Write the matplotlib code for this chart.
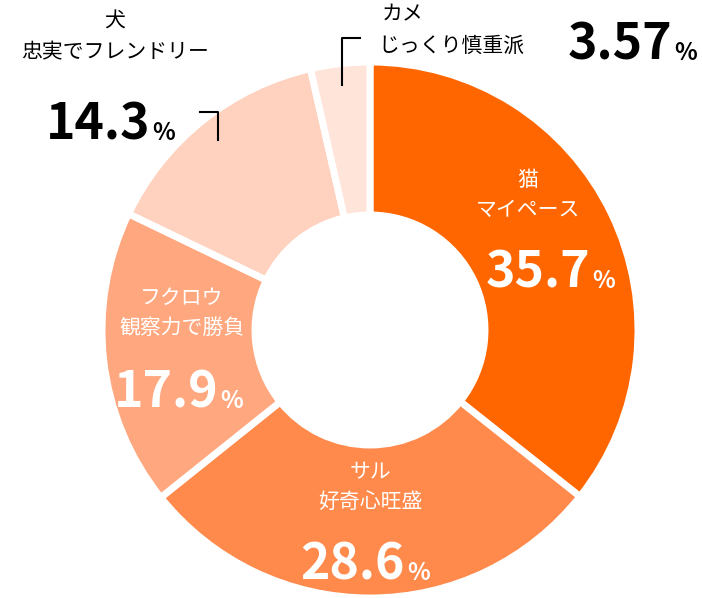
import matplotlib
matplotlib.use("Agg")
import matplotlib.pyplot as plt

labels = ["猫", "サル", "フクロウ", "犬", "カメ"]
subs = ["マイペース", "好奇心旺盛", "観察力で勝負", "忠実でフレンドリー", "じっくり慎重派"]
values = [35.7, 28.6, 17.9, 14.3, 3.57]
pct_text = ["35.7", "28.6", "17.9", "14.3", "3.57"]
colors = ["#FF6600", "#FF8A4C", "#FFA880", "#FFD2BF", "#FFE4D9"]

F = "Noto Sans CJK JP"
fig = plt.figure(figsize=(7.02, 5.98), dpi=100)
ax = fig.add_axes([0, 0, 1, 1])
ax.set_xlim(0, 702); ax.set_ylim(598, 0)
ax.axis("off")
# pie in a separate axes with normal orientation
pax = fig.add_axes([0, 0, 1, 1])
pax.set_xlim(0, 702); pax.set_ylim(0, 598); pax.axis("off")
pax.pie(values, colors=colors, startangle=90, counterclock=False,
        center=(370, 268), radius=268, frame=True,
        wedgeprops=dict(width=153, edgecolor="white", linewidth=5))
pax.set_xlim(0, 702); pax.set_ylim(0, 598); pax.set_aspect("auto"); pax.axis("off")
pax.set_zorder(0); ax.set_zorder(1); ax.patch.set_visible(False)

def lab(x, y, t, s, c, tc, sz=15):
    ax.text(x, y, t, ha="center", va="center", fontsize=sz, color=tc, family=F)
    ax.text(x, y + 30, s, ha="center", va="center", fontsize=sz, color=tc, family=F)

def pct(x, y, num, tc, ha="center"):
    t = ax.text(x, y, num, ha="right", va="baseline", fontsize=36, fontweight="bold",
                color=tc, family=F)
    ax.text(x + 2, y, "%", ha="left", va="baseline", fontsize=17, fontweight="bold",
            color=tc, family=F)

lab(528, 180, labels[0], subs[0], colors[0], "white")
pct(590, 288, pct_text[0], "white")
lab(370, 472, labels[1], subs[1], colors[1], "white")
pct(405, 580, pct_text[1], "white")
lab(182, 298, labels[2], subs[2], colors[2], "white")
pct(218, 408, pct_text[2], "white")
lab(115, 22, labels[3], subs[3], colors[3], "black")
pct(150, 140, pct_text[3], "black")
ax.text(382, 14, labels[4], ha="left", va="center", fontsize=15, family=F)
ax.text(378, 46, subs[4], ha="left", va="center", fontsize=15, family=F)
pct(672, 60, pct_text[4], "black")
ax.plot([200, 218, 218], [112, 112, 140], color="black", lw=1.5)
ax.plot([360, 342, 342], [38, 38, 85], color="black", lw=1.5)

fig.savefig("out.png", dpi=100)
